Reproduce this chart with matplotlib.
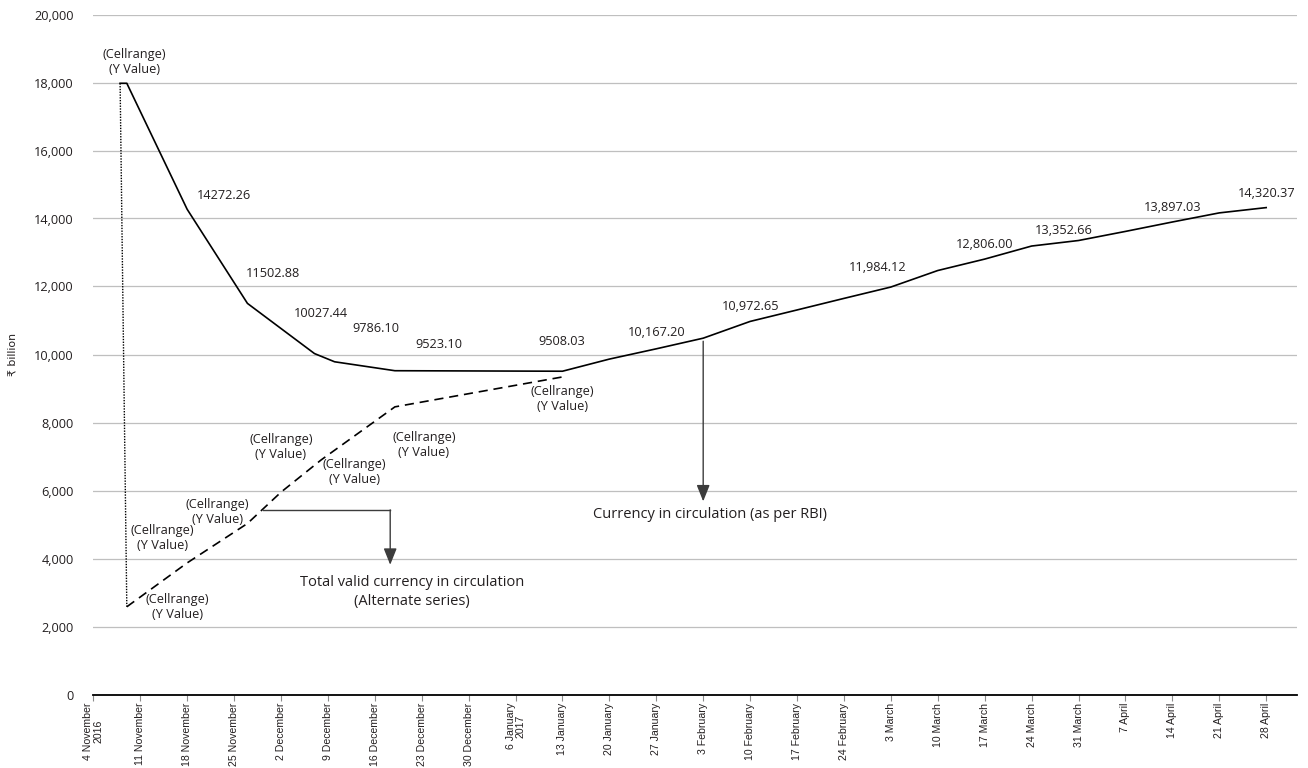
import matplotlib
matplotlib.use("Agg")
import matplotlib.pyplot as plt
import matplotlib.dates as mdates
from matplotlib.patches import ArrowStyle
from matplotlib.ticker import FuncFormatter, MultipleLocator
import pandas as pd

plt.rcParams["font.family"] = ["Open Sans", "DejaVu Sans"]

# ---- data (₹ billion) ----
# Currency in circulation (as per RBI)
cic_dates = ["2016-11-08", "2016-11-09", "2016-11-18", "2016-11-27", "2016-12-07",
             "2016-12-10", "2016-12-19", "2017-01-13", "2017-01-20", "2017-01-27",
             "2017-02-03", "2017-02-10", "2017-02-17", "2017-02-24", "2017-03-03",
             "2017-03-10", "2017-03-17", "2017-03-24", "2017-03-31", "2017-04-07",
             "2017-04-14", "2017-04-21", "2017-04-28"]
cic_values = [17977, 17977, 14272.26, 11502.88, 10027.44,
              9786.10, 9523.10, 9508.03, 9865, 10167.20,
              10480, 10972.65, 11310, 11650, 11984.12,
              12470, 12806.00, 13190, 13352.66, 13620,
              13897.03, 14165, 14320.37]
cic_labels = [None, None, "14272.26", "11502.88", "10027.44",
              "9786.10", "9523.10", "9508.03", None, "10,167.20",
              None, "10,972.65", None, None, "11,984.12",
              None, "12,806.00", None, "13,352.66", None,
              "13,897.03", None, "14,320.37"]

# Total valid currency in circulation (alternate series)
valid_dates = ["2016-11-09", "2016-11-18", "2016-11-27", "2016-12-02",
               "2016-12-08", "2016-12-19", "2017-01-13"]
valid_values = [2580, 3870, 5030, 5950, 6900, 8460, 9340]

# Drop on the day of the announcement
drop_dates = ["2016-11-08", "2016-11-09"]
drop_values = [17977, 2580]

week_labels = ["4 November\n2016", "11 November", "18 November", "25 November",
               "2 December", "9 December", "16 December", "23 December",
               "30 December", "6 January\n2017", "13 January", "20 January",
               "27 January", "3 February", "10 February", "17 February",
               "24 February", "3 March", "10 March", "17 March", "24 March",
               "31 March", "7 April", "14 April", "21 April", "28 April"]

# ---- styling ----
INK = "#231f20"
GRID = "#bfbfbf"
W, H = 1308, 768

fig = plt.figure(figsize=(W / 100, H / 100), dpi=100)
ax = fig.add_axes([93.3 / W, (H - 694.5) / H, (1297 - 93.3) / W, (694.5 - 14.5) / H])

cic_x = pd.to_datetime(cic_dates)
valid_x = pd.to_datetime(valid_dates)
drop_x = pd.to_datetime(drop_dates)
week_x = pd.date_range("2016-11-04", periods=len(week_labels), freq="7D")

ax.plot(cic_x, cic_values, color="black", lw=1.2, solid_joinstyle="round", zorder=3)
ax.plot(valid_x, valid_values, color="black", lw=1.2, linestyle=(0, (5.5, 3.5)), zorder=3)
ax.plot(drop_x, drop_values, color="black", lw=1.0, linestyle=(0, (1, 1)), zorder=3)

# axes limits and grid
x0 = mdates.date2num(pd.Timestamp("2016-11-04"))
ax.set_xlim(x0, x0 + 179.6)
ax.set_ylim(0, 20000)
ax.yaxis.set_major_locator(MultipleLocator(2000))
ax.yaxis.set_major_formatter(FuncFormatter(lambda v, p: f"{int(v):,}"))
ax.grid(axis="y", color=GRID, lw=0.9)
ax.set_axisbelow(True)
for side in ("top", "right", "left"):
    ax.spines[side].set_visible(False)
ax.spines["bottom"].set_color("black")
ax.spines["bottom"].set_linewidth(1.3)
ax.spines["bottom"].set_zorder(4)

ax.tick_params(axis="y", length=0, pad=14, labelsize=9.2, labelcolor=INK)
ax.set_xticks(week_x)
ax.set_xticklabels(week_labels, rotation=90, ha="center", va="top",
                   multialignment="center", linespacing=1.0,
                   family=["Liberation Sans", "DejaVu Sans"],
                   fontsize=7.6, color=INK)
ax.tick_params(axis="x", length=4, width=0.8, color="#8c8c8c", pad=2)

ax.set_ylabel("₹ billion", fontsize=7.8, color=INK, family=["DejaVu Sans"])
ax.yaxis.set_label_coords(-0.0626, 0.5)

# ---- value labels on the circulation line (offsets in pixels) ----
label_offsets = {
    "14272.26": (37, 14), "11502.88": (26, 30), "10027.44": (6, 40),
    "9786.10": (41, 33), "9523.10": (44, 26), "9508.03": (-1, 30),
    "10,167.20": (0, 16), "10,972.65": (0, 15), "11,984.12": (-13, 20),
    "12,806.00": (0, 15), "13,352.66": (-15, 10), "13,897.03": (0, 15),
    "14,320.37": (0, 14),
}
for x, y, lab in zip(cic_x, cic_values, cic_labels):
    if lab is None:
        continue
    dx, dy = label_offsets[lab]
    ax.annotate(lab, (x, y), xytext=(dx, dy), textcoords="offset pixels",
                ha="center", va="center", fontsize=9.2, color=INK, zorder=5)

# placeholder labels from the spreadsheet
cell_text = "(Cellrange)\n(Y Value)"
ax.annotate(cell_text, (drop_x[0], drop_values[0]), xytext=(14, 21),
            textcoords="offset pixels", ha="center", va="center",
            fontsize=9.2, color=INK, linespacing=1.2, zorder=5)
cell_offsets = [(51, 0), (-25, 25), (-30, 11.5), (0, 45), (33, -12.5), (29, -38.5), (0, -22)]
for x, y, (dx, dy) in zip(valid_x, valid_values, cell_offsets):
    ax.annotate(cell_text, (x, y), xytext=(dx, dy), textcoords="offset pixels",
                ha="center", va="center", fontsize=9.2, color=INK,
                linespacing=1.2, zorder=5)

# ---- callouts ----
head = ArrowStyle("-|>", head_length=1.0, head_width=0.4)
d = lambda s: mdates.date2num(pd.Timestamp(s))

# currency in circulation callout
ax.annotate("", xy=(d("2017-02-03"), 5680), xytext=(d("2017-02-03"), 10390),
            arrowprops=dict(arrowstyle=head, color="#3c3c3c", lw=1.0,
                            mutation_scale=10, shrinkA=0, shrinkB=0), zorder=4)
ax.text(d("2017-02-04"), 5280, "Currency in circulation (as per RBI)",
        ha="center", va="center", fontsize=10.5, color=INK)

# total valid currency callout
ax.plot([d("2016-11-29") + 0.3, d("2016-12-18") + 0.3], [5430, 5430],
        color="#3c3c3c", lw=1.0, zorder=4)
ax.annotate("", xy=(d("2016-12-18") + 0.3, 3815), xytext=(d("2016-12-18") + 0.3, 5430),
            arrowprops=dict(arrowstyle=head, color="#3c3c3c", lw=1.0,
                            mutation_scale=10, shrinkA=0, shrinkB=0), zorder=4)
ax.text(d("2016-12-21") + 0.6, 3020,
        "Total valid currency in circulation\n(Alternate series)",
        ha="center", va="center", fontsize=10.5, color=INK, linespacing=1.4)

fig.savefig("out.png", dpi=100)
